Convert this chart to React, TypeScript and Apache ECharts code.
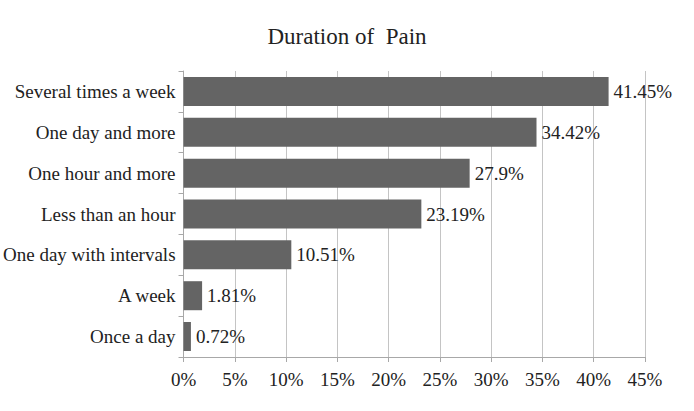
import React, { useEffect, useRef } from "react";
import * as echarts from "echarts";

const categories = [
  "Once a day",
  "A week",
  "One day with intervals",
  "Less than an hour",
  "One hour and more",
  "One day and more",
  "Several times a week",
];
const values = [0.72, 1.81, 10.51, 23.19, 27.9, 34.42, 41.45];
const titleText = "Duration of  Pain";
const FONT = "Liberation Serif";

export default function App() {
  const ref = useRef<HTMLDivElement>(null);
  useEffect(() => {
    const chart = echarts.init(ref.current!, null, { renderer: "svg" });
    chart.setOption({
      animation: false,
      backgroundColor: "#ffffff",
      title: {
        text: titleText,
        left: "center",
        top: 20,
        textStyle: { fontFamily: FONT, fontSize: 23, fontWeight: "normal", color: "#222" },
      },
      grid: { left: 180, right: 49, top: 71, bottom: 54, containLabel: false },
      xAxis: {
        type: "value",
        min: 0,
        max: 45,
        interval: 5,
        axisLine: { show: true, lineStyle: { color: "#a8a8a8" } },
        axisTick: { show: true, length: 5, lineStyle: { color: "#a8a8a8" } },
        splitLine: { show: true, lineStyle: { color: "#c4c4c4" } },
        axisLabel: {
          formatter: (v: number) => v + "%",
          fontFamily: FONT,
          fontSize: 19,
          color: "#222",
          margin: 13,
        },
      },
      yAxis: {
        type: "category",
        data: categories,
        axisLine: { show: true, lineStyle: { color: "#a8a8a8" } },
        axisTick: { show: true, length: 5, lineStyle: { color: "#a8a8a8" } },
        axisLabel: { fontFamily: FONT, fontSize: 19, color: "#222", margin: 8 },
      },
      series: [
        {
          type: "bar",
          data: values,
          barCategoryGap: "29%",
          itemStyle: { color: "#646464" },
          label: {
            show: true,
            position: "right",
            distance: 5,
            formatter: (p: any) => p.value + "%",
            fontFamily: FONT,
            fontSize: 19,
            color: "#222",
          },
        },
      ],
    });
    return () => chart.dispose();
  }, []);
  return <div ref={ref} style={{ width: 694, height: 411, position: "absolute", left: 0, top: 0 }} />;
}
